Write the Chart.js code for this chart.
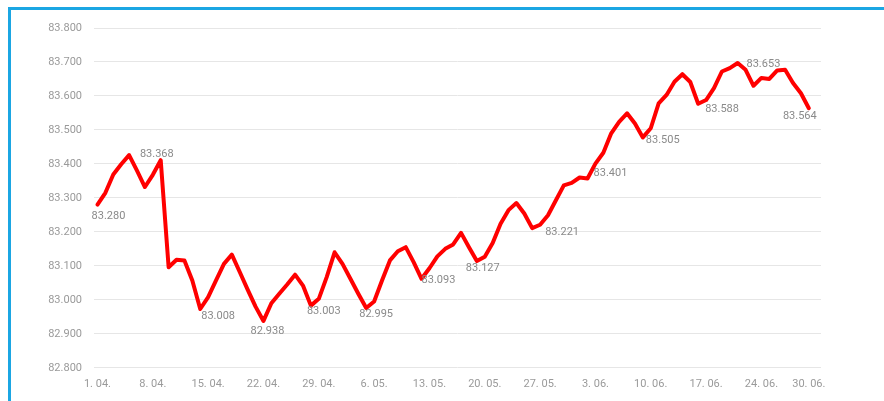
<!DOCTYPE html>
<html>
<head>
<meta charset="utf-8">
<script src="https://cdn.jsdelivr.net/npm/chart.js@4"></script>
<style>
  html, body { margin: 0; padding: 0; background: #fff; }
  #wrap { position: relative; width: 884px; height: 401px; overflow: hidden; }
  #frame { position: absolute; left: 8px; top: 7px; width: 1000px; height: 500px;
           border-left: 3px solid #1ba6e3; border-top: 3px solid #1ba6e3; box-sizing: border-box; }
  #c { position: absolute; left: 0; top: 0; }
</style>
</head>
<body>
<div id="wrap">
  <div id="frame"></div>
  <canvas id="c" width="884" height="401"></canvas>
</div>
<script>
// Daily values, 1.04. – 30.06.
const values = [
  83.280, 83.315, 83.369, 83.399, 83.426, 83.380, 83.332, 83.368, 83.411, 83.096,
  83.118, 83.116, 83.057, 82.973, 83.008, 83.057, 83.106, 83.133, 83.082, 83.030,
  82.980, 82.938, 82.990, 83.018, 83.045, 83.074, 83.042, 82.983, 83.003, 83.067,
  83.140, 83.106, 83.062, 83.018, 82.976, 82.995, 83.057, 83.116, 83.143, 83.155,
  83.111, 83.062, 83.093, 83.128, 83.150, 83.163, 83.197, 83.155, 83.114, 83.127,
  83.167, 83.224, 83.264, 83.285, 83.254, 83.211, 83.221, 83.249, 83.293, 83.337,
  83.344, 83.360, 83.357, 83.401, 83.433, 83.490, 83.524, 83.549, 83.519, 83.478,
  83.505, 83.578, 83.603, 83.642, 83.664, 83.641, 83.577, 83.588, 83.623, 83.672,
  83.682, 83.697, 83.677, 83.630, 83.653, 83.650, 83.675, 83.677, 83.638, 83.608,
  83.564
];
// Day indices that carry an x tick label and a data label
const tickIndices = [0, 7, 14, 21, 28, 35, 42, 49, 56, 63, 70, 77, 84, 90];
const tickLabels = ["1. 04.", "8. 04.", "15. 04.", "22. 04.", "29. 04.", "6. 05.", "13. 05.",
                    "20. 05.", "27. 05.", "3. 06.", "10. 06.", "17. 06.", "24. 06.", "30. 06."];
const yTicks = [82.8, 82.9, 83.0, 83.1, 83.2, 83.3, 83.4, 83.5, 83.6, 83.7, 83.8];

// Data label placement relative to its point (style config)
const labelPlacement = [
  [11, 12], [4, -21], [10, 19], [4, 10], [5, 12], [2, 13], [9, 12],
  [-2, 12], [22, 8], [15, 10], [12, 12], [16, 9], [2, -14], [-9, 8]
];

const points = values.map((v, i) => ({ x: i, y: v }));

const dataLabels = {
  id: 'dataLabels',
  afterDatasetsDraw(chart) {
    const meta = chart.getDatasetMeta(0);
    const ctx = chart.ctx;
    ctx.save();
    ctx.font = '11px Roboto';
    ctx.fillStyle = '#8a8a8a';
    ctx.textAlign = 'center';
    ctx.textBaseline = 'middle';
    tickIndices.forEach((idx, k) => {
      const el = meta.data[idx];
      const [dx, dy] = labelPlacement[k];
      ctx.fillText(values[idx].toFixed(3), el.x + dx, el.y + dy);
    });
    ctx.restore();
  }
};

new Chart(document.getElementById('c'), {
  type: 'line',
  data: {
    datasets: [{
      data: points,
      borderColor: '#ff0000',
      borderWidth: 4,
      pointRadius: 0,
      pointHoverRadius: 0,
      tension: 0,
      borderJoinStyle: 'round',
      borderCapStyle: 'round',
      fill: false
    }]
  },
  options: {
    responsive: false,
    animation: false,
    layout: { padding: { left: 0, right: 63, top: 28, bottom: 0 } },
    plugins: { legend: { display: false }, tooltip: { enabled: false } },
    scales: {
      x: {
        type: 'linear',
        min: -0.44,
        max: 91.54,
        afterBuildTicks(axis) { axis.ticks = tickIndices.map(v => ({ value: v })); },
        ticks: {
          autoSkip: false,
          maxRotation: 0,
          padding: 10,
          color: '#9a9a9a',
          font: { family: 'Roboto', size: 11 },
          callback(value) {
            const k = tickIndices.indexOf(value);
            return k >= 0 ? tickLabels[k] : '';
          }
        },
        grid: { display: false, drawTicks: false },
        border: { display: false }
      },
      y: {
        min: 82.8,
        max: 83.8,
        afterFit(axis) { axis.width = 94; },
        afterBuildTicks(axis) { axis.ticks = yTicks.map(v => ({ value: v })); },
        ticks: {
          padding: 12,
          color: '#9a9a9a',
          font: { family: 'Roboto', size: 11 },
          callback(value) { return Number(value).toFixed(3); }
        },
        grid: { color: '#e6e6e6', lineWidth: 1, drawTicks: false },
        border: { display: false }
      }
    }
  },
  plugins: [dataLabels]
});
</script>
</body>
</html>
